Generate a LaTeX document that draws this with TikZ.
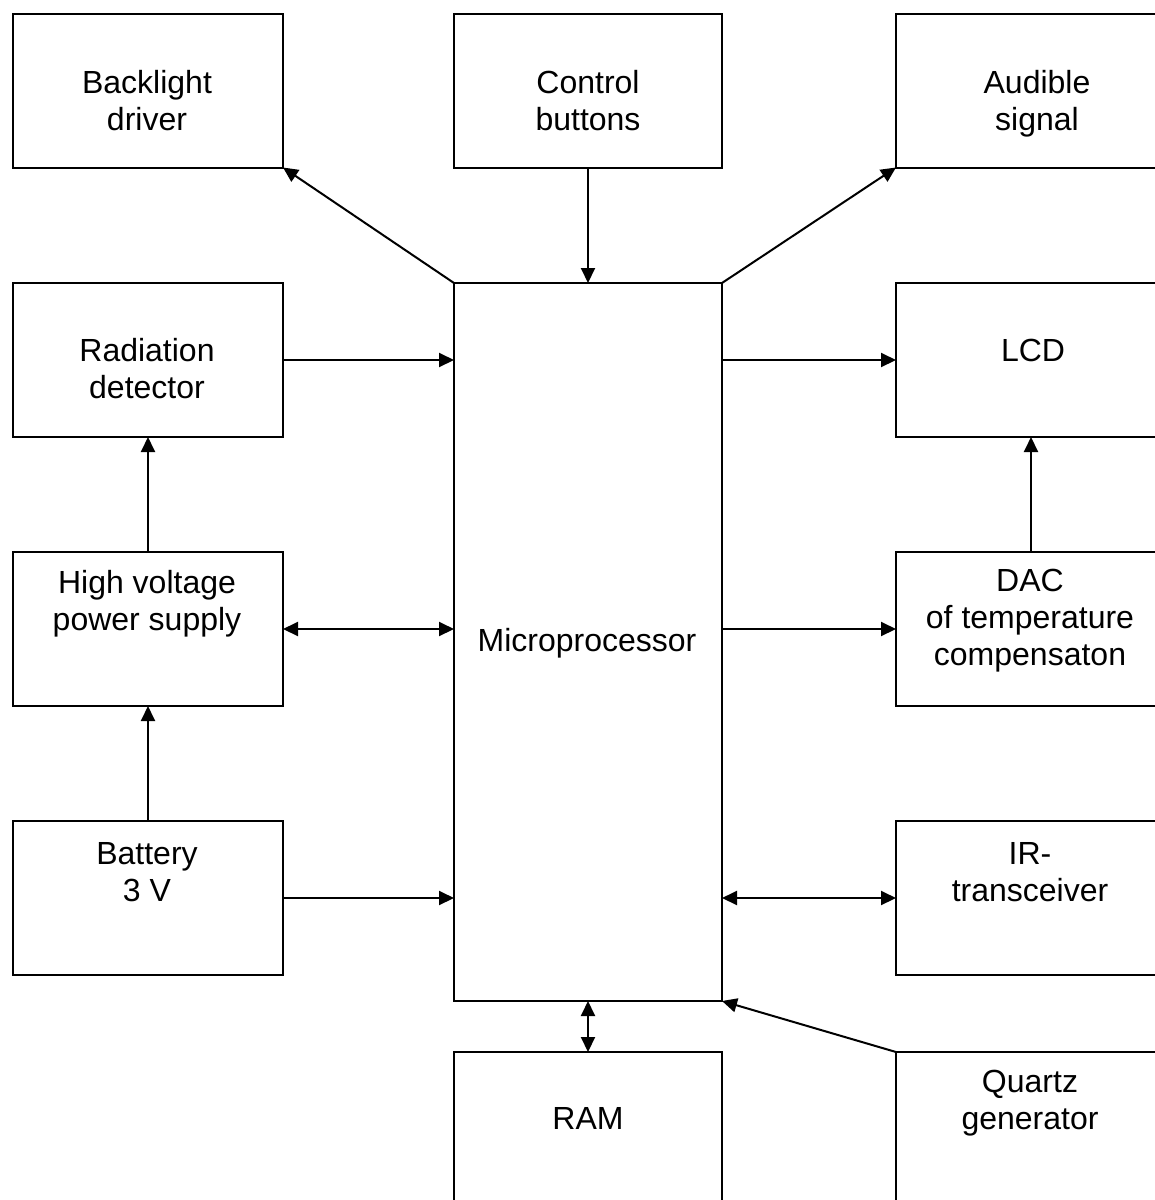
\documentclass[tikz,border=0pt]{standalone}
\usepackage{fontspec}
\setmainfont{Liberation Sans}
\usetikzlibrary{arrows.meta}
\begin{document}
\begin{tikzpicture}[x=0.5pt,y=-0.5pt,
  box/.style={draw, line width=1pt, inner sep=0pt, outer sep=0pt, minimum width=135pt, minimum height=77pt},
  mbox/.style={box, minimum width=134pt},
  lbl/.style={align=center, font=\fontsize{16}{18.5}\selectfont, inner sep=0pt},
  tip/.tip={Triangle[length=7.5pt,width=7pt]},
  conn/.style={line width=1pt, -tip},
  bconn/.style={line width=1pt, tip-tip}]
\useasboundingbox (0,0) rectangle (1155,1200);
\fill[white] (0,0) rectangle (1155,1200);
\begin{scope}
\clip (0,0) rectangle (1155,1200);
% boxes
\node[box] (bl) at (148,90.5) {};
\node[mbox] (cb) at (588,90.5) {};
\node[box] (au) at (1031,90.5) {};
\node[box] (rd) at (148,360) {};
\node[mbox, minimum height=359pt] (mp) at (588,642) {};
\node[box] (lcd) at (1031,360) {};
\node[box] (hv) at (148,629) {};
\node[box] (dac) at (1031,629) {};
\node[box] (bat) at (148,898) {};
\node[box] (ir) at (1031,898) {};
\node[mbox] (ram) at (588,1129) {};
\node[box] (qz) at (1031,1129) {};
% labels
\node[lbl] (tbl) at (147,104.6) {\strut Backlight\\\strut driver};
\node[lbl] (tcb) at (588,104.6) {\strut Control\\\strut buttons};
\node[lbl] (tau) at (1037,104.6) {\strut Audible\\\strut signal};
\node[lbl] (trd) at (147,372.6) {\strut Radiation\\\strut detector};
\node[lbl] (tlcd) at (1033,354.1) {\strut LCD};
\node[lbl] (thv) at (147,604.6) {\strut High voltage\\\strut power supply};
\node[lbl] (tmp) at (587,644.1) {\strut Microprocessor};
\node[lbl] (tdac) at (1030,621.1) {\strut DAC\\\strut of temperature\\\strut compensaton};
\node[lbl] (tbat) at (147,875.6) {\strut Battery\\\strut 3 V};
\node[lbl] (tir) at (1030,875.6) {\strut IR-\\\strut transceiver};
\node[lbl] (tram) at (588,1122.1) {\strut RAM};
\node[lbl] (tqz) at (1030,1103.6) {\strut Quartz\\\strut generator};
% connectors
\draw[conn] (mp.north west) -- (bl.south east);
\draw[conn] (cb.south) -- (mp.north);
\draw[conn] (mp.north east) -- (au.south west);
\draw[conn] (rd.east) -- (rd.east -| mp.west);
\draw[conn] (mp.east |- lcd.west) -- (lcd.west);
\draw[bconn] (hv.east) -- (hv.east -| mp.west);
\draw[conn] (mp.east |- dac.west) -- (dac.west);
\draw[conn] (dac.north) -- (lcd.south);
\draw[conn] (hv.north) -- (rd.south);
\draw[conn] (bat.north) -- (hv.south);
\draw[conn] (bat.east) -- (bat.east -| mp.west);
\draw[bconn] (mp.east |- ir.west) -- (ir.west);
\draw[bconn] (mp.south) -- (ram.north);
\draw[conn] (qz.north west) -- (mp.south east);
\end{scope}
\end{tikzpicture}
\end{document}
